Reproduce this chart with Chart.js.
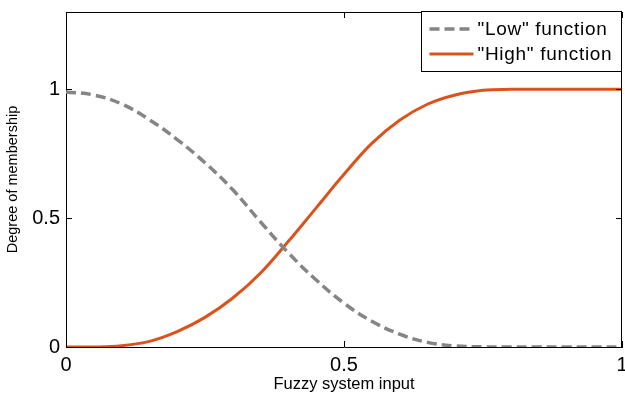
<!DOCTYPE html>
<html>
<head>
<meta charset="utf-8">
<script src="https://cdn.jsdelivr.net/npm/chart.js@4/dist/chart.umd.min.js"></script>
<style>
  html, body { margin: 0; padding: 0; background: #fff; }
  #wrap { width: 625px; height: 394px; }
</style>
</head>
<body>
<div id="wrap"><canvas id="chart"></canvas></div>
<script>
// membership curves sampled along the input axis
const inputs = [0, 0.05, 0.1, 0.15, 0.2, 0.25, 0.3, 0.35, 0.4, 0.45, 0.5,
                0.55, 0.6, 0.65, 0.7, 0.75, 0.8, 0.85, 0.9, 0.95, 1];
const lowValues = [0.99, 0.978, 0.943, 0.882, 0.805, 0.715, 0.61, 0.485, 0.365, 0.26, 0.17,
                   0.10, 0.05, 0.018, 0.004, 0.0005, 0, 0, 0, 0, 0];
const highValues = [0, 0, 0.005, 0.022, 0.06, 0.115, 0.19, 0.287, 0.41, 0.54, 0.67,
                    0.79, 0.88, 0.942, 0.978, 0.996, 1, 1, 1, 1, 1];
const seriesNames = ['"Low" function', '"High" function'];
const xTicks = [0, 0.5, 1];
const yTicks = [0, 0.5, 1];

const FONT = '"Liberation Sans", Arial, Helvetica, sans-serif';

function pts(ys) {
  return inputs.map((x, i) => ({ x: x, y: ys[i] }));
}

// box around the axes: top/right edges plus inward tick marks on all sides
const boxPlugin = {
  id: 'box',
  afterDatasetsDraw(chart) {
    const { ctx, chartArea: a, scales } = chart;
    ctx.save();
    ctx.strokeStyle = '#000';
    ctx.lineWidth = 1;
    ctx.beginPath();
    ctx.moveTo(a.left, a.top + 0.5);
    ctx.lineTo(a.right, a.top + 0.5);
    ctx.moveTo(a.right - 0.5, a.top);
    ctx.lineTo(a.right - 0.5, a.bottom);
    const len = 6;
    xTicks.forEach(v => {
      const px = Math.round(scales.x.getPixelForValue(v)) + 0.5;
      ctx.moveTo(px, a.bottom);
      ctx.lineTo(px, a.bottom - len);
      ctx.moveTo(px, a.top);
      ctx.lineTo(px, a.top + len);
    });
    yTicks.forEach(v => {
      const py = Math.round(scales.y.getPixelForValue(v)) + 0.5;
      ctx.moveTo(a.left, py);
      ctx.lineTo(a.left + len, py);
      ctx.moveTo(a.right, py);
      ctx.lineTo(a.right - len, py);
    });
    ctx.stroke();
    ctx.restore();
  },
  afterDraw(chart) {
    // legend box in the upper right corner of the axes
    const { ctx, chartArea: a } = chart;
    const w = 200, h = 60;
    const x0 = a.right - w - 0.5, y0 = a.top - 0.5;
    ctx.save();
    ctx.fillStyle = '#fff';
    ctx.fillRect(x0, y0, w, h);
    ctx.strokeStyle = '#000';
    ctx.lineWidth = 1;
    ctx.strokeRect(x0, y0, w, h);
    ctx.font = '19px ' + FONT;
    ctx.letterSpacing = '0.7px';
    ctx.textBaseline = 'middle';
    ctx.fillStyle = '#000';
    chart.data.datasets.forEach((ds, i) => {
      const yy = y0 + 17.5 + i * 25;
      ctx.strokeStyle = ds.borderColor;
      ctx.lineWidth = ds.borderWidth;
      ctx.setLineDash(ds.borderDash || []);
      ctx.beginPath();
      ctx.moveTo(x0 + 8, yy);
      ctx.lineTo(x0 + 52, yy);
      ctx.stroke();
      ctx.setLineDash([]);
      ctx.fillText(ds.label, x0 + 56, yy + 1);
    });
    ctx.restore();
  }
};

new Chart(document.getElementById('chart'), {
  type: 'line',
  data: {
    datasets: [
      {
        label: seriesNames[0],
        data: pts(lowValues),
        borderColor: '#858585',
        borderWidth: 3.5,
        borderDash: [10, 5],
        pointRadius: 0,
        tension: 0.4
      },
      {
        label: seriesNames[1],
        data: pts(highValues),
        borderColor: '#DB531C',
        borderWidth: 3,
        pointRadius: 0,
        tension: 0.4
      }
    ]
  },
  options: {
    responsive: true,
    maintainAspectRatio: false,
    animation: false,
    layout: { padding: { top: 12, right: 3, left: 0, bottom: 0 } },
    plugins: {
      legend: { display: false },
      tooltip: { enabled: false }
    },
    scales: {
      x: {
        type: 'linear',
        min: 0,
        max: 1,
        afterBuildTicks: s => { s.ticks = xTicks.map(v => ({ value: v })); },
        afterFit: s => { s.height = 47; s.paddingLeft = 0; s.paddingRight = 0; },
        grid: { display: false, drawTicks: false },
        border: { display: true, color: '#000', width: 1 },
        ticks: {
          color: '#000',
          padding: 6,
          maxRotation: 0,
          font: { family: FONT, size: 20 },
          callback: v => String(v)
        },
        title: {
          display: true,
          text: 'Fuzzy system input',
          color: '#000',
          padding: { top: 0, bottom: 0 },
          font: { family: FONT, size: 16.5 }
        }
      },
      y: {
        type: 'linear',
        min: 0,
        max: 1.3,
        afterBuildTicks: s => { s.ticks = yTicks.map(v => ({ value: v })); },
        afterFit: s => { s.width = 66; s.paddingTop = 0; s.paddingBottom = 0; },
        grid: { display: false, drawTicks: false },
        border: { display: true, color: '#000', width: 1 },
        ticks: {
          color: '#000',
          padding: 6,
          font: { family: FONT, size: 20 },
          callback: v => String(v)
        },
        title: {
          display: true,
          text: 'Degree of membership',
          color: '#000',
          padding: { top: 4, bottom: 0 },
          font: { family: FONT, size: 14.5 }
        }
      }
    }
  },
  plugins: [boxPlugin]
});
</script>
</body>
</html>
